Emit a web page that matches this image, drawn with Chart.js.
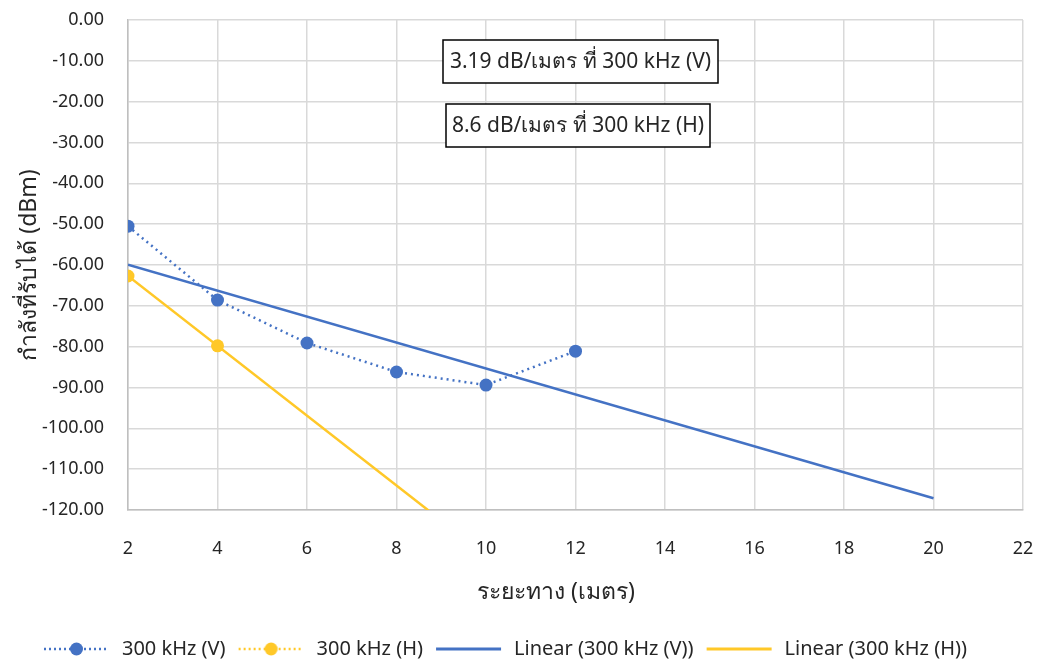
<!DOCTYPE html>
<html><head><meta charset="utf-8">
<script src="https://cdn.jsdelivr.net/npm/chart.js@4.4.1/dist/chart.umd.min.js"></script>
<style>html,body{margin:0;padding:0;background:#fff}#wrap{width:1037px;height:661px;position:relative}</style>
</head><body><div id="wrap"><canvas id="c"></canvas></div>
<script>
// ---- data ----
const distances = [2, 4, 6, 8, 10, 12];
const powerV = [-50.5, -68.6, -79.1, -86.2, -89.4, -81.1];
const distancesH = [2, 4];
const powerH = [-62.7, -79.8];
const trendRange = [2, 20];
const yTicks = { min: -120, max: 0, step: 10 };
const xTicks = { min: 2, max: 22, step: 2 };
const seriesNames = ['300 kHz (V)', '300 kHz (H)', 'Linear (300 kHz (V))', 'Linear (300 kHz (H))'];
const noteTexts = ['3.19 dB/เมตร ที่ 300 kHz (V)', '8.6 dB/เมตร ที่ 300 kHz (H)'];
const xTitle = 'ระยะทาง (เมตร)';
const yTitle = 'กำลังที่รับได้ (dBm)';

const BLUE = '#4472C4', GOLD = '#FFC828', TXT = '#262626';
const FONT = '"Noto Sans", "Open Sans", sans-serif';
const BOTTOM_PAD = -8;

function linreg(xs, ys) {
  const n = xs.length;
  const mx = xs.reduce((a, b) => a + b, 0) / n;
  const my = ys.reduce((a, b) => a + b, 0) / n;
  let sxy = 0, sxx = 0;
  for (let i = 0; i < n; i++) { sxy += (xs[i] - mx) * (ys[i] - my); sxx += (xs[i] - mx) ** 2; }
  const m = sxy / sxx, b = my - m * mx;
  return trendRange.map(x => ({ x, y: m * x + b }));
}

function legendImg(color, dotted, dot) {
  const c = document.createElement('canvas');
  c.width = 80; c.height = 14;
  const g = c.getContext('2d');
  g.strokeStyle = color; g.lineWidth = dotted ? 2.5 : 3;
  if (dotted) g.setLineDash([2, 3]);
  g.beginPath(); g.moveTo(12, 7); g.lineTo(77, 7); g.stroke();
  if (dot) { g.fillStyle = color; g.beginPath(); g.arc(44.5, 7, 6.5, 0, Math.PI * 2); g.fill(); }
  return c;
}

const decor = {
  id: 'decor',
  afterLayout(chart) {
    if (chart.legend) { chart.legend.left -= 18; chart.legend.right -= 18; }
  },
  afterDraw(chart) {
    const ctx = chart.ctx;
    const boxes = [
      { l: 443, t: 40, r: 718, b: 83 },
      { l: 446, t: 104, r: 710, b: 147 }
    ];
    ctx.save();
    ctx.font = '21px ' + FONT;
    ctx.textAlign = 'center'; ctx.textBaseline = 'middle';
    boxes.forEach((bx, i) => {
      ctx.fillStyle = '#fff';
      ctx.fillRect(bx.l, bx.t, bx.r - bx.l, bx.b - bx.t);
      ctx.strokeStyle = '#000'; ctx.lineWidth = 1.5;
      ctx.strokeRect(bx.l, bx.t, bx.r - bx.l, bx.b - bx.t);
      ctx.fillStyle = TXT;
      ctx.fillText(noteTexts[i], (bx.l + bx.r) / 2, (bx.t + bx.b) / 2 + 1);
    });
    // x axis title
    ctx.font = '23px ' + FONT;
    ctx.fillText(xTitle, 556, 592);
    ctx.restore();
  }
};

const pts = (xs, ys) => xs.map((x, i) => ({ x, y: ys[i] }));

new Chart(document.getElementById('c'), {
  type: 'line',
  data: {
    datasets: [
      { label: seriesNames[0], data: pts(distances, powerV), borderColor: BLUE, backgroundColor: BLUE,
        borderWidth: 2.5, borderDash: [2, 4], pointRadius: 6.5, pointHoverRadius: 6.5, pointBorderWidth: 0, order: 0 },
      { label: seriesNames[1], data: pts(distancesH, powerH), borderColor: GOLD, backgroundColor: GOLD,
        borderWidth: 2.5, borderDash: [2, 4], pointRadius: 6.5, pointHoverRadius: 6.5, pointBorderWidth: 0, order: 0, showLine: false },
      { label: seriesNames[2], data: linreg(distances, powerV), borderColor: BLUE, backgroundColor: BLUE,
        borderWidth: 2.5, pointRadius: 0, order: 1 },
      { label: seriesNames[3], data: linreg(distancesH, powerH), borderColor: GOLD, backgroundColor: GOLD,
        borderWidth: 2.5, pointRadius: 0, order: 1 }
    ]
  },
  options: {
    responsive: true, maintainAspectRatio: false, animation: false,
    layout: { padding: { top: 20, right: 14, left: 12, bottom: BOTTOM_PAD } },
    plugins: {
      tooltip: { enabled: false },
      legend: {
        position: 'bottom',
        labels: {
          usePointStyle: true, pointStyleWidth: 80, padding: 1,
          color: TXT, font: { family: FONT, size: 20 },
          generateLabels(chart) {
            const imgs = [legendImg(BLUE, true, true), legendImg(GOLD, true, true), legendImg(BLUE, false, false), legendImg(GOLD, false, false)];
            return chart.data.datasets.map((d, i) => ({
              text: d.label, pointStyle: imgs[i], datasetIndex: i, fillStyle: d.borderColor,
              strokeStyle: d.borderColor, lineWidth: 0, hidden: false, fontColor: TXT
            }));
          }
        }
      }
    },
    scales: {
      x: {
        type: 'linear', min: xTicks.min, max: xTicks.max,
        ticks: { stepSize: xTicks.step, color: TXT, font: { family: FONT, size: 18 }, padding: 28 },
        grid: { color: '#d9d9d9', lineWidth: 1.5, drawTicks: false },
        border: { color: '#bfbfbf', width: 1.5 },
        title: { display: false },
        afterFit(scale) {
          const lg = scale.chart.legend ? scale.chart.legend.height : 37;
          scale.height = 661 - BOTTOM_PAD - 510 - lg;
          scale.paddingLeft = 0; scale.paddingRight = 0;
        }
      },
      y: {
        min: yTicks.min, max: yTicks.max,
        ticks: { stepSize: yTicks.step, color: TXT, font: { family: FONT, size: 18 }, padding: 24,
          callback: v => Number(v).toFixed(2) },
        grid: { color: '#d9d9d9', lineWidth: 1.5, drawTicks: false },
        border: { color: '#bfbfbf', width: 1.5 },
        title: { display: true, text: yTitle, color: TXT, font: { family: FONT, size: 23 }, padding: { top: 4, bottom: 4 } },
        afterFit(scale) { scale.width = 128 - 12; scale.paddingTop = 0; scale.paddingBottom = 0; }
      }
    }
  },
  plugins: [decor]
});
</script></body></html>
